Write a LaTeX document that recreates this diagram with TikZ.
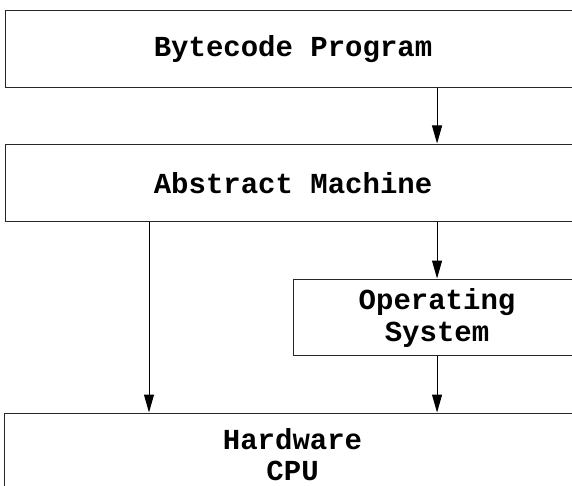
\documentclass[tikz,border=0pt]{standalone}
\usepackage{fontspec}
\setmonofont{Liberation Mono}
\usetikzlibrary{arrows.meta}
\tikzset{
  x=1pt, y=-1pt,
  layer/.style={draw=black!85, line width=1.1pt, fill=white, inner sep=0pt,
    anchor=north west, align=center,
    font=\ttfamily\bfseries\fontsize{29}{32}\selectfont},
  flow/.style={draw=black, line width=1pt,
    -{Triangle[length=18pt, width=10pt]}, shorten >=0.5pt},
}
\begin{document}
\begin{tikzpicture}
  \useasboundingbox (0,0) rectangle (572,486);
  \clip (0,0) rectangle (572,486);
  % stacked layers, running off the right edge
  \node[layer, minimum width=575pt, minimum height=77pt] (bc) at (5,10) {Bytecode Program};
  \node[layer, minimum width=575pt, minimum height=77pt] (am) at (5,144) {Abstract Machine};
  \node[layer, minimum width=287pt, minimum height=76pt] (os) at (293,279) {Operating\\System};
  \node[layer, minimum width=576pt, minimum height=100pt] (hw) at (4,413) {};
  \node[font=\ttfamily\bfseries\fontsize{29}{31}\selectfont, align=center, inner sep=0pt,
        anchor=north] (hwtext) at (hw.north |- 0,428) {Hardware\\CPU};
  % column used by the direct path to the hardware
  \coordinate (direct) at (149,0);
  \draw[flow] (bc.south -| os.north) -- (am.north -| os.north);
  \draw[flow] (am.south -| os.north) -- (os.north);
  \draw[flow] (os.south) -- (hw.north -| os.south);
  \draw[flow] (am.south -| direct) -- (hw.north -| direct);
\end{tikzpicture}
\end{document}
